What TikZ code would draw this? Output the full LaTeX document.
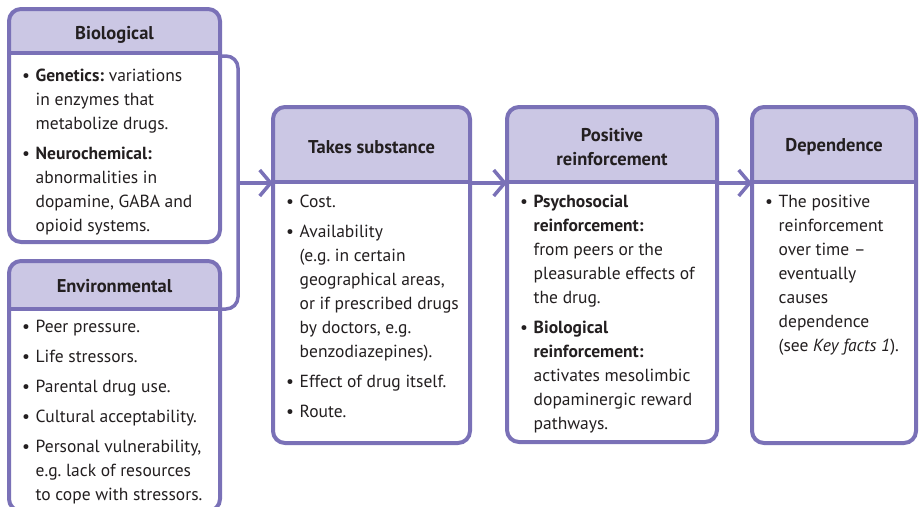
\documentclass[tikz,border=0pt]{standalone}
\usepackage{fontspec}
\setmainfont{PT Sans}
\usetikzlibrary{arrows.meta,calc}
\definecolor{bordc}{HTML}{7A71B7}
\definecolor{hdrc}{HTML}{CBC7E4}
\definecolor{txtc}{HTML}{231F20}
\newcommand\bu{\makebox[13.5pt][l]{\textbullet}}
\newcommand\ind{\hspace*{13.5pt}}
\frenchspacing
\begin{document}
\begin{tikzpicture}[x=1pt,y=-1pt,
  box/.style={draw=bordc, fill=white, line width=4pt, rounded corners=12pt, inner sep=0pt, outer sep=0pt, anchor=north west},
  hdr/.style={path picture={
      \fill[hdrc, sharp corners] (path picture bounding box.north west) rectangle ([yshift=-#1]path picture bounding box.north east);
      \draw[bordc, line width=3.5pt, sharp corners] ([yshift=-#1]path picture bounding box.north west) -- ([yshift=-#1]path picture bounding box.north east);}},
  hdrtext/.style={font=\fontsize{18.5}{24}\selectfont\bfseries, text=txtc, align=center, inner sep=0pt},
  body/.style={inner sep=0pt, text=txtc, anchor=north west, font=\fontsize{17.5}{24}\selectfont},
  conn/.style={draw=bordc, line width=3.5pt, rounded corners=12pt},
  arr/.style={draw=bordc, line width=3.5pt, -{Straight Barb[length=11pt,width=26pt]}}
]
\useasboundingbox (0,0) rectangle (920,506);
\begin{scope}
\clip (0,0) rectangle (920,506);
% boxes
\node[box, hdr=44pt, minimum width=211pt, minimum height=233pt] (bio) at (9,9) {};
\node[box, hdr=48pt, minimum width=211pt, minimum height=250pt] (env) at (9,261) {};
\node[box, hdr=75pt, minimum width=197pt, minimum height=336pt] (takes) at (273,107) {};
\node[box, hdr=75pt, minimum width=210pt, minimum height=335pt] (pos) at (507,107) {};
\node[box, hdr=75pt, minimum width=164pt, minimum height=336pt] (dep) at (752,107) {};
\end{scope}
% bracket and arrows
\coordinate (bt) at ([yshift=-47pt]bio.north east);
\coordinate (bb) at ([yshift=-48pt]env.north east);
\coordinate (j) at (238,183);
\draw[conn] (bt) -- (j |- bt) -- (j |- bb) -- (bb);
\draw[arr] (j) -- (j -| takes.west);
\coordinate (a1) at ([yshift=-76pt]takes.north east);
\draw[arr] (a1) -- (a1 -| pos.west);
\coordinate (a2) at ([yshift=-76pt]pos.north east);
\draw[arr] (a2) -- (a2 -| dep.west);
% headers
\node[hdrtext] (biohdr) at ([yshift=-26pt]bio.north) {Biological};
\node[hdrtext] (envhdr) at ([yshift=-25pt]env.north) {Environmental};
\node[hdrtext] (takeshdr) at ([yshift=-40pt]takes.north) {Takes substance};
\node[hdrtext] (poshdr) at ([yshift=-40pt]pos.north) {Positive\\reinforcement};
\node[hdrtext] (dephdr) at ([yshift=-40pt]dep.north) {Dependence};
% bodies
\node[body] (biotxt) at (22,64.7) {\begin{tabular}[t]{@{}l@{}}
\bu\textbf{Genetics:} variations\\
\ind in enzymes that\\
\ind metabolize drugs.\\[6pt]
\bu\textbf{Neurochemical:}\\
\ind abnormalities in\\
\ind dopamine, GABA and\\
\ind opioid systems.
\end{tabular}};
\node[body] (envtxt) at (22,315.7) {\begin{tabular}[t]{@{}l@{}}
\bu Peer pressure.\\[6pt]
\bu Life stressors.\\[6pt]
\bu Parental drug use.\\[6pt]
\bu Cultural acceptability.\\[6pt]
\bu Personal vulnerability,\\
\ind e.g. lack of resources\\
\ind to cope with stressors.
\end{tabular}};
\node[body] (takestxt) at (286,190.7) {\begin{tabular}[t]{@{}l@{}}
\bu Cost.\\[6pt]
\bu Availability\\
\ind (e.g. in certain\\
\ind geographical areas,\\
\ind or if prescribed drugs\\
\ind by doctors, e.g.\\
\ind benzodiazepines).\\[6pt]
\bu Effect of drug itself.\\[6pt]
\bu Route.
\end{tabular}};
\node[body] (postxt) at (520,190.2) {\begin{tabular}[t]{@{}l@{}}
\bu\textbf{Psychosocial}\\
\ind\textbf{reinforcement:}\\
\ind from peers or the\\
\ind pleasurable effects of\\
\ind the drug.\\[6pt]
\bu\textbf{Biological}\\
\ind\textbf{reinforcement:}\\
\ind activates mesolimbic\\
\ind dopaminergic reward\\
\ind pathways.
\end{tabular}};
\node[body] (deptxt) at (765,190.2) {\begin{tabular}[t]{@{}l@{}}
\bu The positive\\
\ind reinforcement\\
\ind over time --\\
\ind eventually\\
\ind causes\\
\ind dependence\\
\ind (see \textit{Key facts 1}).
\end{tabular}};
\end{tikzpicture}
\end{document}
